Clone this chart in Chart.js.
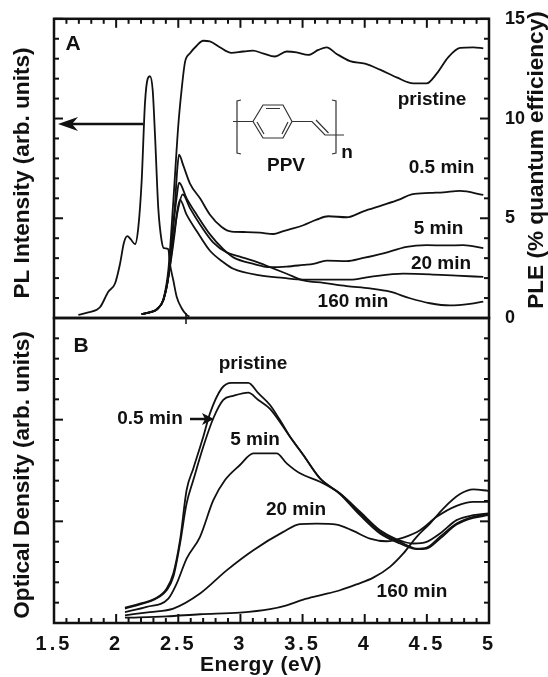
<!DOCTYPE html>
<html>
<head>
<meta charset="utf-8">
<style>
  html, body { margin: 0; padding: 0; background: #fff; }
  body { width: 548px; height: 677px; position: relative; overflow: hidden; }
  canvas { position: absolute; left: 0; top: 0; }
</style>
<script src="https://cdn.jsdelivr.net/npm/chart.js@4"></script>
</head>
<body>
<canvas id="panelA" width="548" height="677"></canvas>
<canvas id="panelB" width="548" height="677"></canvas>
<script>
// panel A
const plE = [1.696,1.776,1.87,1.937,1.991,2.031,2.063,2.09,2.117,2.152,2.178,2.205,2.232,2.254,2.272,2.294,2.313,2.339,2.366,2.385,2.42,2.433,2.46,2.487,2.527,2.567,2.589];
const plI = [0.16,0.28,0.54,1.32,1.73,2.71,3.78,4.1,3.95,3.7,4.52,6.83,10.77,12,12.12,11.43,9.13,5.51,3.87,3.5,3.45,2.71,1.89,1.07,0.49,0.16,0.08];

const plePristineE = [2.205,2.27,2.326,2.38,2.42,2.46,2.5,2.527,2.554,2.594,2.648,2.7,2.754,2.834,2.928,3.02,3.1,3.18,3.278,3.372,3.452,3.546,3.627,3.694,3.774,3.882,4.002,4.123,4.257,4.391,4.498,4.579,4.673,4.767,4.874,4.954];
const plePristine = [0.2,0.28,0.45,0.95,2.4,5.85,9.65,11.46,12.83,13.27,13.65,13.9,13.87,13.57,13.29,13.36,13.4,13.27,13.11,13.36,13.32,13.19,13.44,13.57,13.24,12.88,12.75,12.45,12.06,11.76,11.76,12.25,13.08,13.54,13.57,13.52];

const ple05E = [2.205,2.27,2.326,2.38,2.42,2.447,2.473,2.492,2.506,2.54,2.594,2.675,2.755,2.849,2.929,3.05,3.157,3.265,3.345,3.425,3.506,3.613,3.707,3.855,3.989,4.15,4.27,4.378,4.525,4.632,4.767,4.954];
const ple05 = [0.2,0.28,0.42,0.9,2.06,3.87,5.67,7.48,8.19,7.65,6.74,6,5.18,4.56,4.33,4.31,4.28,4.21,4.36,4.49,4.65,4.93,5.1,5.05,5.35,5.67,5.92,6.2,6.27,6.3,6.37,6.17];

const ple5E = [2.205,2.27,2.326,2.38,2.42,2.46,2.486,2.506,2.567,2.648,2.755,2.862,2.943,3.104,3.238,3.372,3.506,3.587,3.694,3.855,3.989,4.15,4.337,4.498,4.659,4.793,4.954];
const ple5 = [0.2,0.28,0.42,0.9,2.06,4.6,6,6.78,6,5.18,4.19,3.45,3.04,2.71,2.55,2.58,2.66,2.71,2.88,2.85,3.01,3.24,3.57,3.65,3.64,3.65,3.5];

const ple20E = [2.205,2.27,2.326,2.38,2.42,2.47,2.49,2.514,2.567,2.648,2.755,2.862,2.943,3.157,3.345,3.506,3.667,3.882,4.042,4.311,4.525,4.739,4.954];
const ple20 = [0.2,0.28,0.42,0.9,2.06,4.2,5.3,5.92,5.18,4.36,3.37,2.8,2.47,2.14,2.01,1.92,1.92,1.92,2.06,2.22,2.19,2.12,2.06];

const ple160E = [2.205,2.27,2.326,2.38,2.42,2.47,2.5,2.535,2.594,2.675,2.782,2.889,2.996,3.157,3.238,3.372,3.506,3.667,3.855,4.042,4.203,4.364,4.525,4.686,4.847,4.954];
const ple160 = [0.2,0.28,0.42,0.9,2.06,4.4,5.5,6.2,5.51,4.69,3.78,3.29,3.08,2.75,2.55,2.22,1.89,1.76,1.6,1.48,1.32,0.99,0.74,0.63,0.71,0.82];

// panel B
const odPristineE = [2.071,2.192,2.313,2.406,2.46,2.514,2.567,2.621,2.701,2.755,2.849,2.929,3.063,3.144,3.238,3.318,3.399,3.506,3.64,3.801,3.962,4.123,4.284,4.418,4.498,4.606,4.739,4.874,4.994];
const odPristine = [0.76,0.95,1.2,1.69,2.43,4.07,6.54,7.6,9.16,10.31,11.54,11.81,11.81,11.3,10.72,9.98,9.16,8.26,7.11,6.37,5.39,4.48,3.99,3.66,3.71,4.24,4.89,5.22,5.35];

const od05E = [2.071,2.192,2.313,2.406,2.46,2.514,2.567,2.621,2.701,2.782,2.862,2.943,3.063,3.144,3.238,3.399,3.506,3.64,3.801,3.962,4.123,4.284,4.418,4.498,4.606,4.739,4.874,4.994];
const od05 = [0.71,0.92,1.17,1.61,2.27,3.91,5.88,7.03,8.67,10.07,10.97,11.17,11.33,10.97,10.53,9.16,8.26,7.11,6.34,5.3,4.4,3.91,3.63,3.66,4.15,4.84,5.17,5.3];

const od5E = [2.071,2.246,2.42,2.487,2.567,2.675,2.782,2.876,2.996,3.104,3.291,3.372,3.479,3.64,3.801,3.962,4.123,4.257,4.391,4.498,4.606,4.739,4.874,4.994];
const od5 = [0.54,0.79,1.2,1.94,3.17,4.24,6.04,7.03,7.77,8.34,8.34,7.85,7.36,6.95,6.37,5.47,4.56,4.12,3.91,3.99,4.4,5.06,5.3,5.39];

const od20E = [2.071,2.272,2.46,2.675,2.889,3.104,3.345,3.479,3.613,3.774,3.908,4.042,4.177,4.311,4.445,4.579,4.739,4.874,4.994];
const od20 = [0.38,0.54,0.71,1.45,2.59,3.58,4.48,4.86,4.89,4.84,4.53,4.15,4.02,4.2,4.56,5.22,5.76,5.96,5.96];

const od160E = [2.071,2.406,2.675,2.996,3.238,3.372,3.506,3.64,3.801,3.935,4.069,4.203,4.311,4.418,4.525,4.632,4.767,4.874,4.994];
const od160 = [0.26,0.33,0.43,0.51,0.68,0.87,1.15,1.36,1.61,1.9,2.23,2.76,3.42,4.24,4.89,5.63,6.34,6.57,6.5];

const INK = "#111";
const BOLD = '"Liberation Sans", Arial, sans-serif';

function pts(xs, ys) {
  return xs.map((x, i) => ({ x: x, y: ys[i] }));
}

function curve(label, xs, ys, axis) {
  return {
    label: label,
    data: pts(xs, ys),
    yAxisID: axis,
    borderColor: INK,
    borderWidth: 1.8,
    pointRadius: 0,
    cubicInterpolationMode: "monotone",
    clip: false,
  };
}

function text(ctx, str, x, y, size, rot, spacing) {
  ctx.save();
  ctx.translate(x, y);
  if (rot) ctx.rotate(rot);
  ctx.letterSpacing = (spacing || 0) + "px";
  ctx.font = "bold " + size + "px " + BOLD;
  ctx.fillStyle = INK;
  ctx.textAlign = "center";
  ctx.textBaseline = "middle";
  ctx.fillText(str, 0, 0);
  ctx.restore();
}

function seg(ctx, x1, y1, x2, y2, w) {
  ctx.lineWidth = w;
  ctx.beginPath();
  ctx.moveTo(x1, y1);
  ctx.lineTo(x2, y2);
  ctx.stroke();
}

const frameTicks = {
  id: "frameTicks",
  beforeDraw(chart) {
    // the energy labels are spread out in the original
    if (chart.canvas.id === "panelB") chart.ctx.letterSpacing = "3px";
  },
  afterDraw(chart) {
    const ctx = chart.ctx;
    const a = chart.chartArea;
    const top = chart.canvas.id === "panelA";
    ctx.save();
    ctx.letterSpacing = "0px";
    ctx.strokeStyle = INK;
    ctx.lineWidth = 2.5;
    ctx.strokeRect(a.left, a.top, a.right - a.left, a.bottom - a.top);
    chart.scales.x.ticks.forEach((t) => {
      const px = chart.scales.x.getPixelForValue(t.value);
      const major = Math.abs(t.value * 2 - Math.round(t.value * 2)) < 0.001;
      const len = major ? 9 : 5;
      if (top) seg(ctx, px, a.top, px, a.top + len, 2);
      else seg(ctx, px, a.bottom, px, a.bottom - len, 2);
    });
    chart.scales.y.ticks.forEach((t) => {
      const py = chart.scales.y.getPixelForValue(t.value);
      const major = Math.abs(t.value / 5 - Math.round(t.value / 5)) < 0.001;
      const len = major ? 9 : 5;
      seg(ctx, a.left, py, a.left + len, py, 2);
      seg(ctx, a.right, py, a.right - len, py, 2);
    });
    ctx.restore();
  },
};

const notesA = {
  id: "notesA",
  afterDraw(chart) {
    const ctx = chart.ctx;
    ctx.save();
    ctx.strokeStyle = INK;
    ctx.fillStyle = INK;
    text(ctx, "PL Intensity (arb. units)", 23, 173, 22.6, -Math.PI / 2);
    text(ctx, "PLE (% quantum efficiency)", 537, 160, 22.6, -Math.PI / 2);
    text(ctx, "A", 73, 44, 21);
    text(ctx, "pristine", 432, 100, 19);
    text(ctx, "0.5 min", 441.5, 168, 19);
    text(ctx, "5 min", 438.5, 229, 19);
    text(ctx, "20 min", 441, 264, 19);
    text(ctx, "160 min", 353, 302, 19);
    text(ctx, "PPV", 286, 166, 19);
    text(ctx, "n", 347, 153, 19);

    // arrow to the left axis
    seg(ctx, 143, 124, 66, 124, 2.5);
    ctx.beginPath();
    ctx.moveTo(58, 124);
    ctx.lineTo(78, 117);
    ctx.lineTo(72, 124);
    ctx.lineTo(78, 131);
    ctx.closePath();
    ctx.fill();
    seg(ctx, 186, 313, 186, 324, 1.5);

    // PPV structure
    ctx.lineWidth = 1.2;
    ctx.strokeStyle = "#333";
    ctx.beginPath();
    ctx.moveTo(241, 100); ctx.lineTo(237, 101); ctx.lineTo(237, 153); ctx.lineTo(241, 154);
    ctx.moveTo(332, 100); ctx.lineTo(336, 101); ctx.lineTo(336, 153); ctx.lineTo(332, 154);
    ctx.moveTo(233, 121.5); ctx.lineTo(253, 121.5);
    ctx.lineTo(263, 105); ctx.lineTo(283, 105); ctx.lineTo(292, 121.5);
    ctx.lineTo(283, 138); ctx.lineTo(263, 138); ctx.lineTo(253, 121.5);
    ctx.moveTo(266, 108.5); ctx.lineTo(280, 108.5);
    ctx.moveTo(264, 134); ctx.lineTo(257, 122);
    ctx.moveTo(282, 134); ctx.lineTo(288, 122);
    ctx.moveTo(292, 121.5); ctx.lineTo(312, 121.5); ctx.lineTo(325, 135); ctx.lineTo(344, 135);
    ctx.moveTo(316, 120); ctx.lineTo(328.5, 133);
    ctx.stroke();
    ctx.restore();
  },
};

const notesB = {
  id: "notesB",
  afterDraw(chart) {
    const ctx = chart.ctx;
    ctx.save();
    ctx.strokeStyle = INK;
    ctx.fillStyle = INK;
    text(ctx, "Optical Density (arb. units)", 23, 475, 22.6, -Math.PI / 2);
    text(ctx, "Energy (eV)", 261, 665, 21, 0, 0.5);
    text(ctx, "B", 81, 346, 21);
    text(ctx, "pristine", 253, 364, 19);
    text(ctx, "0.5 min", 150, 419, 19);
    text(ctx, "5 min", 255, 440, 19);
    text(ctx, "20 min", 296, 510, 19);
    text(ctx, "160 min", 412, 592, 19);

    seg(ctx, 190, 419, 206, 419, 2.5);
    ctx.beginPath();
    ctx.moveTo(214, 419);
    ctx.lineTo(202, 413);
    ctx.lineTo(205, 419);
    ctx.lineTo(202, 425);
    ctx.closePath();
    ctx.fill();
    ctx.restore();
  },
};

function yScale(position, width) {
  return {
    position: position,
    min: 0,
    max: 15,
    ticks: { display: false, stepSize: 1, autoSkip: false, maxTicksLimit: 100 },
    grid: { display: false },
    border: { display: false },
    afterFit(s) { s.width = width; },
  };
}

function xScale(position, height, showLabels) {
  return {
    type: "linear",
    position: position,
    min: 1.5,
    max: 5,
    ticks: {
      display: showLabels,
      stepSize: 0.1,
      autoSkip: false,
      maxTicksLimit: 100,
      maxRotation: 0,
      padding: 9,
      color: INK,
      font: { family: BOLD, weight: "bold", size: 20 },
      callback(v) {
        const half = Math.abs(v * 2 - Math.round(v * 2)) < 0.001;
        return half ? String(+v.toFixed(1)) : "";
      },
    },
    grid: { display: false, drawTicks: false },
    border: { display: false },
    afterFit(s) { s.height = height; },
  };
}

const rightAxis = yScale("right", 59);
rightAxis.ticks = {
  display: true,
  stepSize: 1,
  autoSkip: false,
  maxTicksLimit: 100,
  padding: 8,
  color: INK,
  font: { family: BOLD, weight: "bold", size: 18 },
  callback(v) { return v % 5 === 0 ? String(v) : ""; },
};

new Chart(document.getElementById("panelA").getContext("2d"), {
  type: "line",
  data: {
    datasets: [
      curve("PL", plE, plI, "y"),
      curve("pristine", plePristineE, plePristine, "yR"),
      curve("0.5 min", ple05E, ple05, "yR"),
      curve("5 min", ple5E, ple5, "yR"),
      curve("20 min", ple20E, ple20, "yR"),
      curve("160 min", ple160E, ple160, "yR"),
    ],
  },
  options: {
    responsive: false,
    animation: false,
    layout: { padding: { top: 14, bottom: 359, left: 0, right: 0 } },
    plugins: { legend: { display: false }, tooltip: { enabled: false } },
    scales: {
      x: xScale("top", 0, false),
      y: yScale("left", 54),
      yR: rightAxis,
    },
  },
  plugins: [frameTicks, notesA],
});

new Chart(document.getElementById("panelB").getContext("2d"), {
  type: "line",
  data: {
    datasets: [
      curve("pristine", odPristineE, odPristine, "y"),
      curve("0.5 min", od05E, od05, "y"),
      curve("5 min", od5E, od5, "y"),
      curve("20 min", od20E, od20, "y"),
      curve("160 min", od160E, od160, "y"),
    ],
  },
  options: {
    responsive: false,
    animation: false,
    layout: { padding: { top: 318, bottom: 0, left: 0, right: 59 } },
    plugins: { legend: { display: false }, tooltip: { enabled: false } },
    scales: {
      x: xScale("bottom", 54, true),
      y: yScale("left", 54),
    },
  },
  plugins: [frameTicks, notesB],
});
</script>
</body>
</html>
